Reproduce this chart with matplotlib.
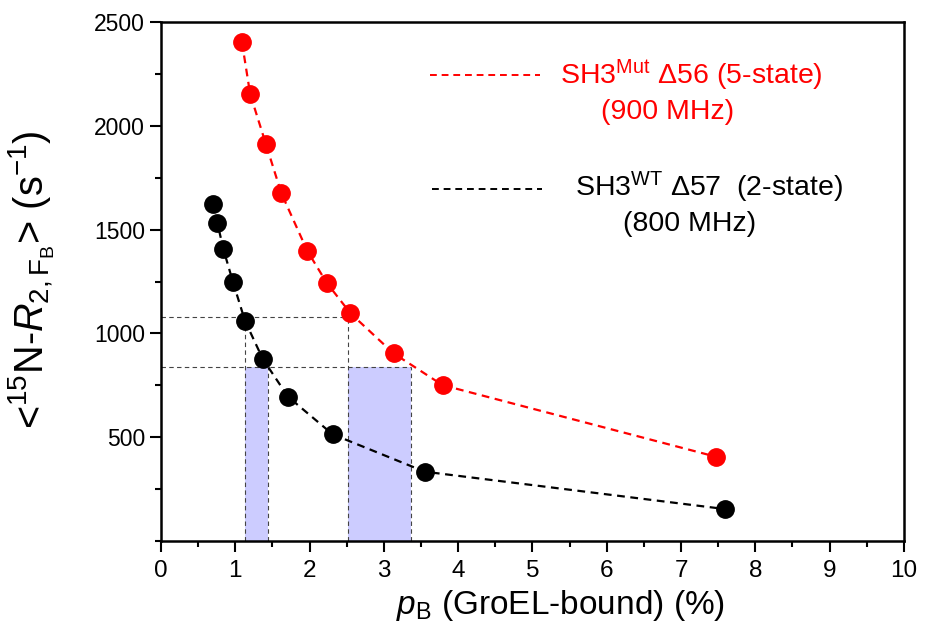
import matplotlib
matplotlib.use("Agg")
import matplotlib.pyplot as plt
from matplotlib.ticker import MultipleLocator

plt.rcParams['font.family'] = ['Liberation Sans', 'DejaVu Sans']
plt.rcParams['mathtext.fontset'] = 'custom'
plt.rcParams['mathtext.rm'] = 'Liberation Sans'
plt.rcParams['mathtext.it'] = 'Liberation Sans:italic'
plt.rcParams['mathtext.bf'] = 'Liberation Sans:bold'

# Data
mut_x = [1.09, 1.20, 1.41, 1.62, 1.97, 2.23, 2.55, 3.13, 3.79, 7.47]
mut_y = [2402, 2153, 1914, 1675, 1397, 1244, 1097, 904, 751, 406]
wt_x = [0.70, 0.76, 0.84, 0.97, 1.13, 1.37, 1.71, 2.31, 3.55, 7.59]
wt_y = [1622, 1530, 1405, 1246, 1061, 877, 695, 514, 334, 154]

ref_levels = [1080, 840]
ref_ends = [2.52, 3.36]
band1 = [1.13, 1.44]
band2 = [2.52, 3.36]

fig = plt.figure(figsize=(9.28, 6.28), dpi=100)
ax = fig.add_axes([0.1735, 0.1385, 0.8005, 0.8265])

ref_style = dict(color='#444444', lw=0.8, ls=(0, (4, 3)), zorder=2)

# shaded bands
for b in (band1, band2):
    ax.fill_between(b, 0, ref_levels[1], color='#ccccff', lw=0, zorder=1)
    ax.plot([b[0], b[0]], [0, ref_levels[0]], **ref_style)
    ax.plot([b[1], b[1]], [0, ref_levels[1]], **ref_style)

for lev, end in zip(ref_levels, ref_ends):
    ax.plot([0, end], [lev, lev], **ref_style)

ax.plot(mut_x, mut_y, color='red', ls=(0, (3.5, 2.5)), lw=1.6, marker='o',
        ms=12.5, mec='red', mfc='red', zorder=4)
ax.plot(wt_x, wt_y, color='black', ls=(0, (3.5, 2.5)), lw=1.6, marker='o',
        ms=12.5, mec='black', mfc='black', zorder=4)

ax.set_xlim(0, 10)
ax.set_ylim(0, 2500)
ax.xaxis.set_major_locator(MultipleLocator(1))
ax.xaxis.set_minor_locator(MultipleLocator(0.5))
ax.yaxis.set_major_locator(MultipleLocator(500))
ax.yaxis.set_minor_locator(MultipleLocator(250))
ax.set_yticks([500, 1000, 1500, 2000, 2500])
ax.set_yticklabels(['500', '1000', '1500', '2000', '2500'])
ax.tick_params(which='major', direction='out', length=8, width=1.5, labelsize=16.5)
ax.tick_params(which='minor', direction='out', length=4, width=1.5)
ax.tick_params(axis='x', pad=6, labelsize=17.5)
for s in ax.spines.values():
    s.set_linewidth(1.8)

ax.set_xlabel(r'$p_{\mathrm{B}}$ (GroEL-bound) (%)', fontsize=24)
ax.xaxis.set_label_coords(0.538, -0.09)
ax.set_ylabel(r'<$^{15}$N-$R_{2,\mathrm{F_B}}$> (s$^{\mathrm{-1}}$)', fontsize=28.5)
ax.yaxis.set_label_coords(-0.14, 0.503)

# legend (manual)
ax.plot([0.362, 0.510], [0.898, 0.898], transform=ax.transAxes, color='red',
        ls=(0, (3.5, 2.5)), lw=1.4)
ax.text(0.537, 0.898, r'SH3$^{\mathrm{Mut}}$ Δ56 (5-state)', transform=ax.transAxes,
        color='red', fontsize=20.5, ha='left', va='center')
ax.text(0.592, 0.827, '(900 MHz)', transform=ax.transAxes,
        color='red', fontsize=20.5, ha='left', va='center')
ax.plot([0.365, 0.513], [0.678, 0.678], transform=ax.transAxes, color='black',
        ls=(0, (3.5, 2.5)), lw=1.4)
ax.text(0.557, 0.682, r'SH3$^{\mathrm{WT}}$ Δ57  (2-state)', transform=ax.transAxes,
        color='black', fontsize=20.5, ha='left', va='center')
ax.text(0.622, 0.611, '(800 MHz)', transform=ax.transAxes,
        color='black', fontsize=20.5, ha='left', va='center')

fig.savefig('out.png', dpi=100)
